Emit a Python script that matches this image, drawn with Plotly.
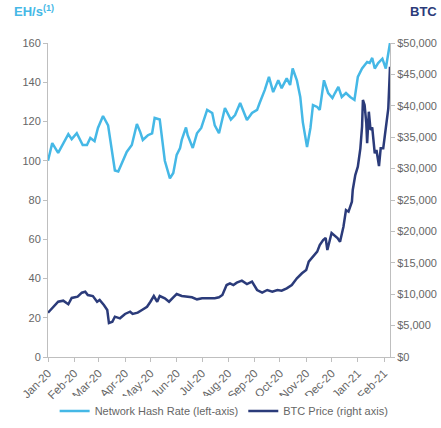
import plotly.graph_objects as go

hash_dates = ["2020-01-01","2020-01-06","2020-01-13","2020-01-18","2020-01-25","2020-01-29","2020-02-04","2020-02-11","2020-02-16","2020-02-20","2020-02-25","2020-02-29","2020-03-06","2020-03-12","2020-03-20","2020-03-24","2020-03-30","2020-04-03","2020-04-09","2020-04-15","2020-04-19","2020-04-22","2020-04-28","2020-05-03","2020-05-06","2020-05-12","2020-05-18","2020-05-24","2020-05-28","2020-06-01","2020-06-05","2020-06-07","2020-06-12","2020-06-14","2020-06-20","2020-06-25","2020-06-30","2020-07-07","2020-07-13","2020-07-16","2020-07-21","2020-07-28","2020-08-04","2020-08-09","2020-08-15","2020-08-18","2020-08-23","2020-08-29","2020-09-04","2020-09-07","2020-09-13","2020-09-18","2020-09-23","2020-09-29","2020-10-03","2020-10-09","2020-10-13","2020-10-16","2020-10-21","2020-10-25","2020-10-28","2020-11-02","2020-11-06","2020-11-09","2020-11-14","2020-11-17","2020-11-22","2020-11-27","2020-12-02","2020-12-05","2020-12-09","2020-12-13","2020-12-18","2020-12-23","2020-12-28","2021-01-01","2021-01-06","2021-01-12","2021-01-15","2021-01-18","2021-01-21","2021-01-25","2021-01-30","2021-02-03","2021-02-06","2021-02-08"]
hash_rate = [100,109,104,108,113.6,111,114,108,108,111.6,110,116.7,122.8,118,95,94.5,100,104.5,108,118.7,114.6,110.6,113,114,121.8,121,100,91,93.8,103,106.5,110.6,117,113,106.5,114,116.7,125.9,124.3,118,114,126.9,121,123.3,129.4,126.4,120.8,124.3,125.9,129.4,136,142.7,135,141,137,142,138.6,147,141,132.5,119.7,107,116.7,128.4,127.4,125.9,141,134.5,132,134.5,137.6,132.5,134.5,132.5,131,142.7,147,150.3,149.8,152.4,147,149.8,152,147,155,160]

btc_dates = ["2020-01-01","2020-01-07","2020-01-13","2020-01-19","2020-01-25","2020-01-29","2020-02-05","2020-02-10","2020-02-14","2020-02-17","2020-02-23","2020-02-28","2020-03-02","2020-03-07","2020-03-11","2020-03-13","2020-03-17","2020-03-20","2020-03-26","2020-04-01","2020-04-07","2020-04-10","2020-04-16","2020-04-21","2020-04-27","2020-05-01","2020-05-05","2020-05-09","2020-05-12","2020-05-18","2020-05-23","2020-05-28","2020-06-01","2020-06-07","2020-06-13","2020-06-19","2020-06-25","2020-07-01","2020-07-08","2020-07-16","2020-07-21","2020-07-25","2020-07-30","2020-08-03","2020-08-07","2020-08-11","2020-08-17","2020-08-23","2020-08-29","2020-09-04","2020-09-10","2020-09-16","2020-09-22","2020-09-28","2020-10-03","2020-10-09","2020-10-15","2020-10-21","2020-10-27","2020-11-01","2020-11-04","2020-11-09","2020-11-14","2020-11-17","2020-11-21","2020-11-24","2020-11-26","2020-12-01","2020-12-04","2020-12-08","2020-12-11","2020-12-15","2020-12-18","2020-12-21","2020-12-25","2020-12-26","2020-12-29","2021-01-01","2021-01-04","2021-01-06","2021-01-07","2021-01-09","2021-01-11","2021-01-12","2021-01-14","2021-01-16","2021-01-18","2021-01-21","2021-01-23","2021-01-26","2021-01-28","2021-01-31","2021-02-02","2021-02-04","2021-02-06","2021-02-08"]
btc_price = [7050,8000,8800,8970,8400,9400,9600,10240,10400,9870,9700,8800,9080,8280,7480,5400,5620,6420,6160,6850,7210,6850,7060,7480,8000,8800,9710,8800,9710,9340,8800,9500,10030,9710,9600,9500,9180,9340,9340,9340,9500,9870,11460,11730,11460,11830,12150,11620,12000,10670,10240,10670,10400,10670,10560,10940,11460,12530,13330,13850,15180,15970,16770,17830,18630,18950,17040,19750,19430,18950,18360,20750,23400,23140,24730,26600,28980,30300,33230,36670,40920,40130,37210,34030,39060,36150,36570,32440,32960,30410,33230,33230,35350,37470,39600,46230]

series_names = ["Network Hash Rate (left-axis)", "BTC Price (right axis)"]
left_title = "EH/s<sup>(1)</sup>"
right_title = "BTC"

LIGHT = "#45B8E6"
NAVY = "#2B3B7A"
GREY = "#666666"
AXIS = "#BFBFBF"
FONT = "Liberation Sans"

fig = go.Figure()
fig.add_trace(go.Scatter(x=hash_dates, y=hash_rate, name=series_names[0], mode="lines",
                         line=dict(color=LIGHT, width=2.5), yaxis="y"))
fig.add_trace(go.Scatter(x=btc_dates, y=btc_price, name=series_names[1], mode="lines",
                         line=dict(color=NAVY, width=2.5), yaxis="y2"))

fig.update_layout(
    width=441, height=428,
    margin=dict(l=48, r=51, t=43, b=71, autoexpand=False),
    paper_bgcolor="white", plot_bgcolor="white",
    font=dict(family=FONT, size=11, color=GREY),
    showlegend=True,
    legend=dict(orientation="h", x=0.515, xanchor="center", yref="container", y=0.04,
                yanchor="middle", font=dict(family=FONT, size=11, color=GREY),
                itemwidth=30, tracegroupgap=0),
    xaxis=dict(range=["2020-01-01", "2021-02-08"], tick0="2020-01-01", dtick="M1",
               tickformat="%b-%y", tickangle=-45, showgrid=False, zeroline=False,
               automargin=False,
               showline=True, linecolor=AXIS, linewidth=1, ticks="outside", ticklen=4,
               tickcolor=AXIS, tickfont=dict(family=FONT, size=11.5, color=GREY)),
    yaxis=dict(range=[0, 160], dtick=20, showgrid=False, zeroline=False, automargin=False,
               showline=True, linecolor=AXIS, linewidth=1, ticks="outside", ticklen=4,
               tickcolor=AXIS, tickfont=dict(family=FONT, size=11, color=GREY)),
    yaxis2=dict(range=[0, 50000], dtick=5000, overlaying="y", side="right",
                tickprefix="$", tickformat=",", showgrid=False, zeroline=False,
                automargin=False,
                showline=True, linecolor=AXIS, linewidth=1, ticks="outside", ticklen=4,
                tickcolor=AXIS, tickfont=dict(family=FONT, size=11, color=GREY)),
    annotations=[
        dict(text="<b>" + left_title + "</b>", xref="paper", yref="paper", x=-0.105, y=1.0,
             xanchor="left", yanchor="bottom", yshift=22, showarrow=False,
             font=dict(size=13, color=LIGHT, family=FONT)),
        dict(text="<b>" + right_title + "</b>", xref="paper", yref="paper", x=1.0, y=1.0,
             xanchor="left", yshift=22, xshift=18, yanchor="bottom", showarrow=False,
             font=dict(size=13, color=NAVY, family=FONT)),
    ],
)

fig.write_html("out.html", config={"displayModeBar": False},
               post_script="document.body.style.margin='0';")
